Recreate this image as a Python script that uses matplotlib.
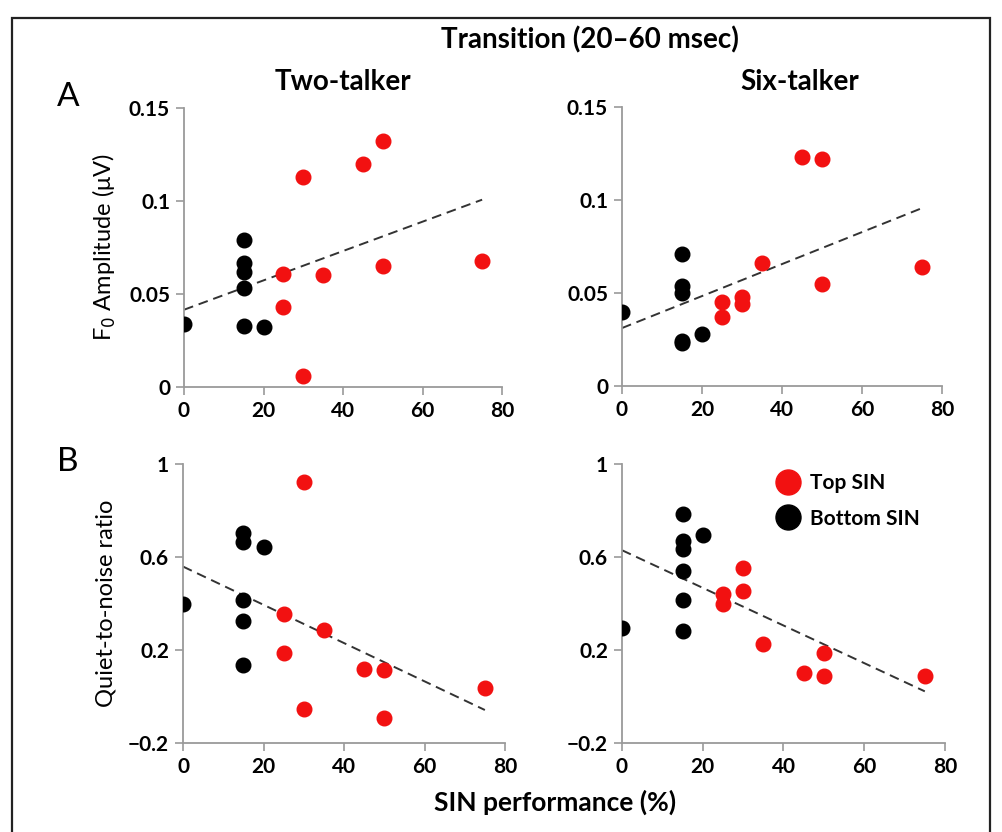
import numpy as np
import matplotlib.pyplot as plt
from matplotlib.patches import Rectangle
from matplotlib.lines import Line2D

plt.rcParams['font.family'] = ['Lato', 'DejaVu Sans']

# SIN performance (%) for each listener group
bottom_x = [0, 15, 15, 15, 15, 15, 20]
top_x = [25, 25, 30, 30, 35, 45, 50, 50, 75]

# panel A, two-talker F0 amplitude (uV)
a2_bottom = [0.034, 0.079, 0.0665, 0.062, 0.053, 0.033, 0.032]
a2_top = [0.061, 0.043, 0.113, 0.006, 0.060, 0.120, 0.132, 0.065, 0.068]
# panel A, six-talker
a6_bottom_x = [0, 15, 15, 15, 15, 15, 20]
a6_bottom = [0.040, 0.071, 0.054, 0.050, 0.024, 0.023, 0.028]
a6_top_x = [25, 25, 30, 30, 35, 45, 50, 50, 75]
a6_top = [0.045, 0.037, 0.048, 0.044, 0.066, 0.123, 0.122, 0.055, 0.064]

# panel B, quiet-to-noise ratio
b2_bottom_x = [0, 15, 15, 20, 15, 15, 15]
b2_bottom = [0.397, 0.704, 0.666, 0.644, 0.414, 0.324, 0.137]
b2_top_x = [25, 25, 30, 30, 35, 45, 50, 50, 75]
b2_top = [0.354, 0.189, 0.921, -0.054, 0.284, 0.119, 0.113, -0.091, 0.037]

b6_bottom_x = [0, 15, 15, 15, 15, 15, 15, 20]
b6_bottom = [0.295, 0.785, 0.668, 0.634, 0.541, 0.417, 0.282, 0.694]
b6_top_x = [25, 25, 30, 30, 35, 45, 50, 50, 75]
b6_top = [0.443, 0.397, 0.551, 0.455, 0.226, 0.101, 0.188, 0.087, 0.087]

red = '#f21111'
gray = '#9a9a9a'

fig = plt.figure(figsize=(10.03, 8.32), dpi=100)

# outer frame
fig.patches.append(Rectangle((12 / 1003, -0.05), 978 / 1003, 1.05 - 18 / 832,
                             transform=fig.transFigure, fill=False,
                             edgecolor='#222222', linewidth=1.6))


def panel(rect, bx, by, tx, ty, ylim, yticks, yticklabels):
    ax = fig.add_axes(rect)
    ax.plot(bx, by, 'o', color='black', markersize=10.5, zorder=3)
    ax.plot(tx, ty, 'o', color=red, markersize=10.5, zorder=3)
    allx = np.array(bx + tx, dtype=float)
    ally = np.array(by + ty, dtype=float)
    k, b = np.polyfit(allx, ally, 1)
    xx = np.array([0, allx.max()])
    ax.plot(xx, k * xx + b, '--', color='#333333', linewidth=1.4,
            dashes=(5, 3), zorder=2)
    ax.set_xlim(0, 80)
    ax.set_ylim(*ylim)
    ax.set_xticks([0, 20, 40, 60, 80])
    ax.set_yticks(yticks)
    ax.set_yticklabels(yticklabels)
    for s in ['top', 'right']:
        ax.spines[s].set_visible(False)
    for s in ['left', 'bottom']:
        ax.spines[s].set_color(gray)
        ax.spines[s].set_linewidth(1.3)
    ax.tick_params(direction='out', length=6, width=1.2, color=gray,
                   labelsize=15, pad=4)
    ax.set_facecolor('none')
    for t in ax.get_xticklabels() + ax.get_yticklabels():
        t.set_fontweight('bold')
    return ax


ax1 = panel([184 / 1003, 1 - 387 / 832, 318 / 1003, 279 / 832],
            bottom_x, a2_bottom, top_x, a2_top,
            (0, 0.15), [0, 0.05, 0.1, 0.15], ['0', '0.05', '0.1', '0.15'])
ax2 = panel([622 / 1003, 1 - 386 / 832, 320 / 1003, 279 / 832],
            a6_bottom_x, a6_bottom, a6_top_x, a6_top,
            (0, 0.15), [0, 0.05, 0.1, 0.15], ['0', '0.05', '0.1', '0.15'])
ax3 = panel([183 / 1003, 1 - 743 / 832, 322 / 1003, 279 / 832],
            b2_bottom_x, b2_bottom, b2_top_x, b2_top,
            (-0.2, 1), [-0.2, 0.2, 0.6, 1], ['\u22120.2', '0.2', '0.6', '1'])
ax4 = panel([622 / 1003, 1 - 743 / 832, 323 / 1003, 279 / 832],
            b6_bottom_x, b6_bottom, b6_top_x, b6_top,
            (-0.2, 1), [-0.2, 0.2, 0.6, 1], ['\u22120.2', '0.2', '0.6', '1'])

ax1.set_ylabel('F$_0$ Amplitude (\u03bcV)', fontsize=17, labelpad=8)
ax3.set_ylabel('Quiet-to-noise ratio', fontsize=17, labelpad=8)

handles = [Line2D([], [], marker='o', linestyle='', color=red, markersize=18),
           Line2D([], [], marker='o', linestyle='', color='black', markersize=18)]
ax4.legend(handles, ['Top SIN', 'Bottom SIN'], loc='upper left',
           bbox_to_anchor=(0.39, 1.035), frameon=False,
           handletextpad=0.1, labelspacing=0.75,
           prop={'weight': 'bold', 'size': 15})

fig.text(590 / 1003, 1 - 40 / 832, 'Transition (20\u201360 msec)', ha='center',
         va='center', fontsize=20, fontweight='bold')
fig.text(343 / 1003, 1 - 82 / 832, 'Two-talker', ha='center', va='center',
         fontsize=20, fontweight='bold')
fig.text(800 / 1003, 1 - 82 / 832, 'Six-talker', ha='center', va='center',
         fontsize=20, fontweight='bold')
fig.text(68 / 1003, 1 - 97 / 832, 'A', ha='center', va='center', fontsize=24)
fig.text(68 / 1003, 1 - 462 / 832, 'B', ha='center', va='center', fontsize=24)
fig.text(555 / 1003, 1 - 802 / 832, 'SIN performance (%)', ha='center',
         va='center', fontsize=19, fontweight='bold')

fig.savefig('out.png', dpi=100)
